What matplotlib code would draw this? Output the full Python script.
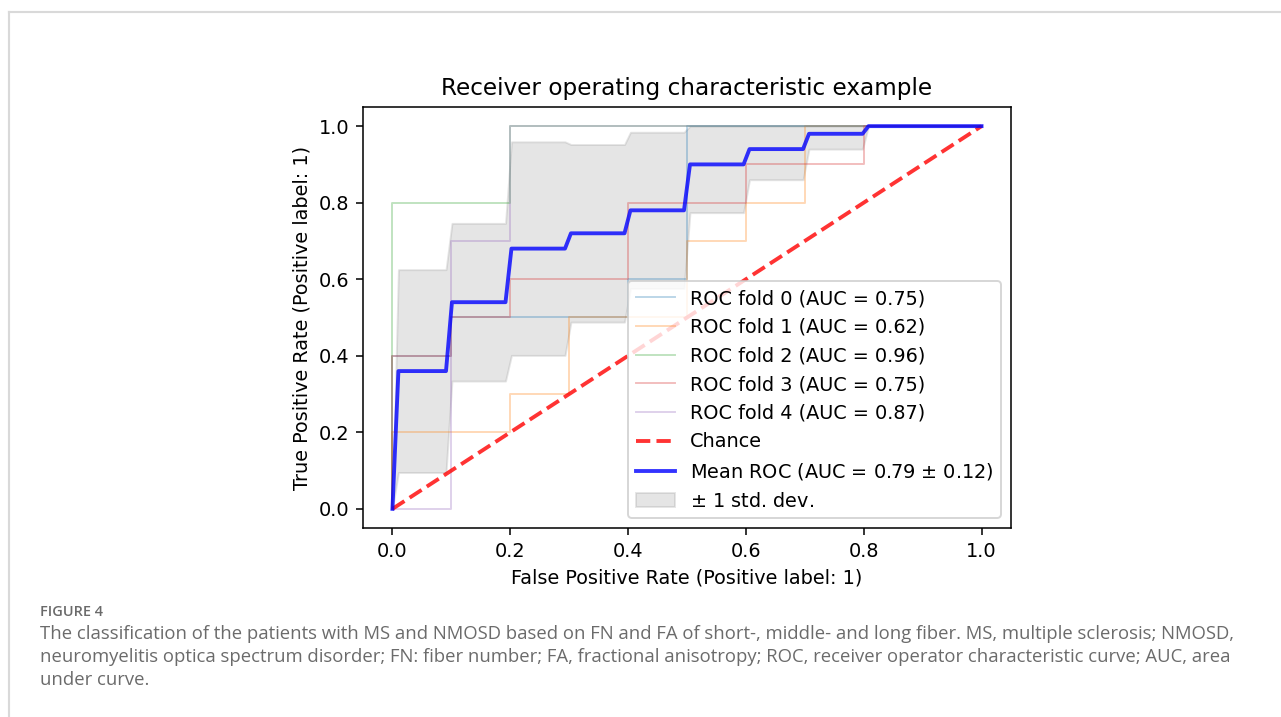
import matplotlib
matplotlib.use("Agg")
import matplotlib.pyplot as plt
from matplotlib.lines import Line2D

DPI = 139

# ROC curve of each fold, vertices
fold_fpr = [
    [0.0, 0.0, 0.1, 0.1, 0.4, 0.4, 0.5, 0.5, 1.0],
    [0.0, 0.0, 0.2, 0.2, 0.3, 0.3, 0.5, 0.5, 0.6, 0.6, 0.7, 0.7, 1.0],
    [0.0, 0.0, 0.2, 0.2, 1.0],
    [0.0, 0.0, 0.1, 0.1, 0.2, 0.2, 0.4, 0.4, 0.6, 0.6, 0.8, 0.8, 1.0],
    [0.0, 0.1, 0.1, 0.2, 0.2, 1.0],
]
fold_tpr = [
    [0.0, 0.4, 0.4, 0.5, 0.5, 0.6, 0.6, 1.0, 1.0],
    [0.0, 0.2, 0.2, 0.3, 0.3, 0.5, 0.5, 0.7, 0.7, 0.8, 0.8, 1.0, 1.0],
    [0.0, 0.8, 0.8, 1.0, 1.0],
    [0.0, 0.4, 0.4, 0.5, 0.5, 0.6, 0.6, 0.8, 0.8, 0.9, 0.9, 1.0, 1.0],
    [0.0, 0.0, 0.7, 0.7, 1.0, 1.0],
]
fold_auc = [0.75, 0.62, 0.96, 0.75, 0.87]

# mean ROC and the +/- 1 std band
mean_fpr = [0.0, 0.0101, 0.0909, 0.1010, 0.1919, 0.2020, 0.2929, 0.3030,
            0.3939, 0.4040, 0.4949, 0.5051, 0.5960, 0.6061, 0.6970, 0.7071,
            0.7980, 0.8081, 1.0]
mean_tpr = [0.0, 0.36, 0.36, 0.54, 0.54, 0.68, 0.68, 0.72, 0.72, 0.78, 0.78,
            0.90, 0.90, 0.94, 0.94, 0.98, 0.98, 1.0, 1.0]
tpr_upper = [0.0, 0.625, 0.625, 0.746, 0.746, 0.959, 0.959, 0.952, 0.952,
             0.984, 0.984, 1.0, 1.0, 1.0, 1.0, 1.0, 1.0, 1.0, 1.0]
tpr_lower = [0.0, 0.095, 0.095, 0.334, 0.334, 0.401, 0.401, 0.488, 0.488,
             0.576, 0.576, 0.774, 0.774, 0.86, 0.86, 0.94, 0.94, 1.0, 1.0]
mean_auc = 0.79
std_auc = 0.12

caption_head = "FIGURE 4"
caption_lines = [
    "The classification of the patients with MS and NMOSD based on FN and FA of short-, middle- and long fiber. MS, multiple sclerosis; NMOSD,",
    "neuromyelitis optica spectrum disorder; FN: fiber number; FA, fractional anisotropy; ROC, receiver operator characteristic curve; AUC, area",
    "under curve.",
]

W, H = 1281, 717
fig = plt.figure(figsize=(W / DPI, H / DPI), dpi=DPI)

# page frame
frame = dict(color="#d9d9d9", lw=1.1, transform=fig.transFigure)
fig.add_artist(Line2D([9 / W, 1.0], [1 - 12 / H, 1 - 12 / H], **frame))
fig.add_artist(Line2D([9 / W, 9 / W], [0.0, 1 - 12 / H], **frame))

ax = fig.add_axes([363 / W, (H - 528) / H, 648 / W, 421 / H])

for i in range(len(fold_fpr)):
    ax.plot(fold_fpr[i], fold_tpr[i], lw=1, alpha=0.3,
            label=f"ROC fold {i} (AUC = {fold_auc[i]:.2f})")

ax.plot([0, 1], [0, 1], linestyle="--", lw=2, color="r", label="Chance", alpha=0.8)

ax.plot(mean_fpr, mean_tpr, color="b", lw=2, alpha=0.8,
        label=r"Mean ROC (AUC = %0.2f $\pm$ %0.2f)" % (mean_auc, std_auc))

ax.fill_between(mean_fpr, tpr_lower, tpr_upper, color="grey", alpha=0.2,
                label=r"$\pm$ 1 std. dev.")

ax.set(xlim=[-0.05, 1.05], ylim=[-0.05, 1.05],
       title="Receiver operating characteristic example")
ax.set_xlabel("False Positive Rate (Positive label: 1)")
ax.set_ylabel("True Positive Rate (Positive label: 1)")
ax.legend(loc="lower right")

fig.text(40 / W, 1 - 612 / H, caption_head, fontsize=7.5, color="#6a6a6a",
         family="Open Sans", weight="semibold", va="center")
for k, line in enumerate(caption_lines):
    fig.text(40 / W, 1 - (634 + 23 * k) / H, line, fontsize=9.58, color="#6b6b6b",
             family="Open Sans", va="center")

fig.savefig("out.png", dpi=DPI)
